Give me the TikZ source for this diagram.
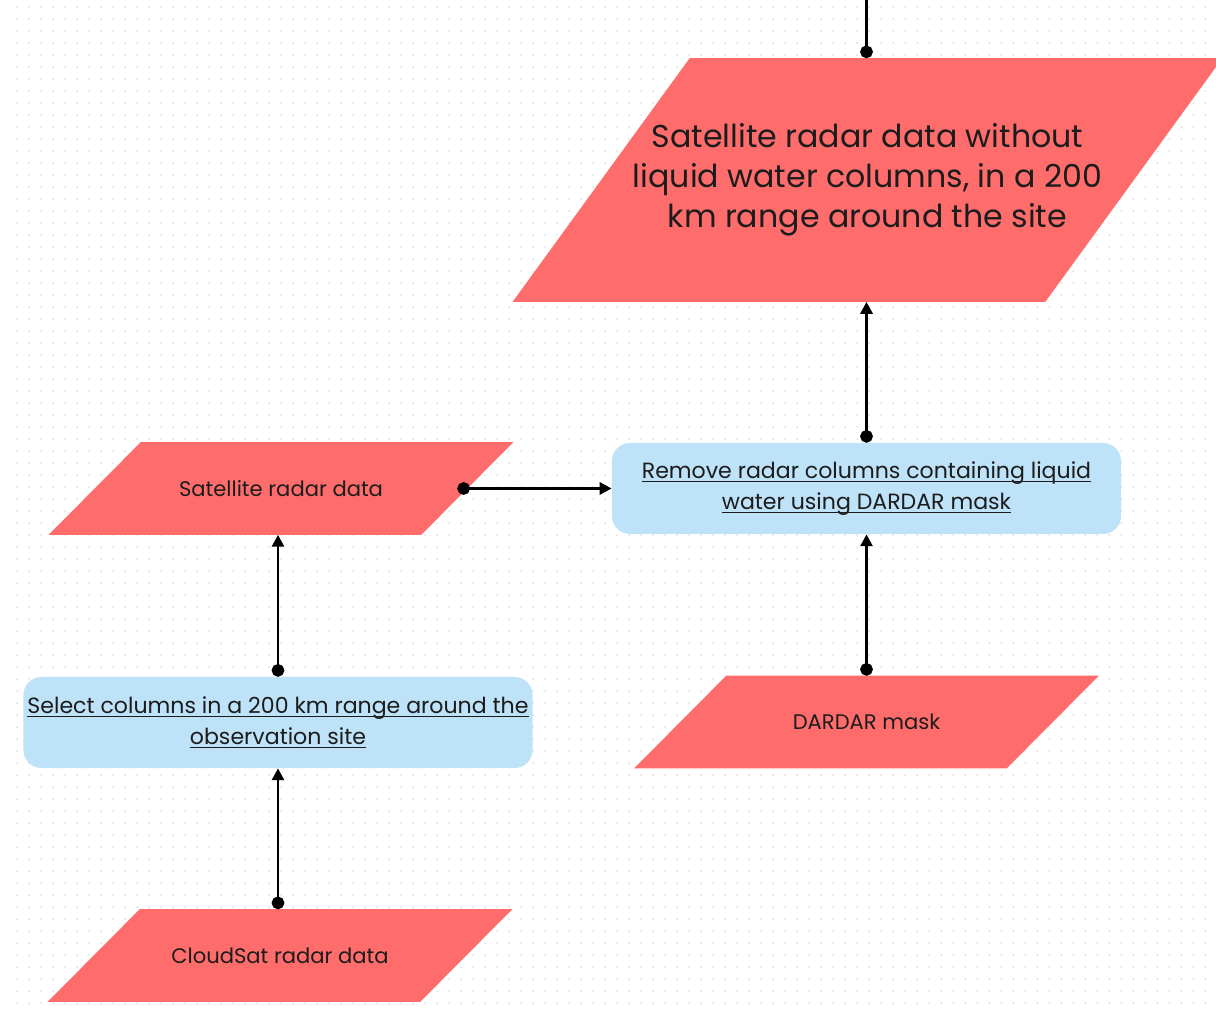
\documentclass[tikz,border=0pt]{standalone}
\usepackage{fontspec}
\setmainfont{Poppins}
\usetikzlibrary{arrows.meta}
\usetikzlibrary{backgrounds}
\definecolor{datared}{RGB}{255,108,108}
\definecolor{stepblue}{RGB}{190,227,249}
\definecolor{inktext}{RGB}{28,28,28}
\definecolor{gridgray}{RGB}{222,222,222}
\newcommand{\undl}[1]{\setbox0\hbox{#1}\rlap{\rule[-2.8pt]{\wd0}{0.8pt}}\box0}
% parallelogram behind a named node, #2 = half the slant offset
\newcommand{\slantfill}[2]{%
  \begin{pgfonlayer}{background}
  \fill[datared] ([xshift=-#2]#1.south west) -- ([xshift=#2]#1.north west)
    -- ([xshift=#2]#1.north east) -- ([xshift=-#2]#1.south east) -- cycle;
  \end{pgfonlayer}}
\tikzset{
  datanode/.style={rectangle, text=inktext, align=center,
    minimum width=9.3cm, minimum height=2.3cm, inner sep=0pt,
    font=\fontsize{15}{20}\selectfont},
  stepbox/.style={rectangle, rounded corners=0.45cm, fill=stepblue, text=inktext,
    align=center, minimum width=12.725cm, minimum height=2.275cm, inner sep=0pt,
    font=\fontsize{15.7}{22}\selectfont},
  link/.style={line width=2.1pt, {Circle[length=9pt]}-{Triangle[length=8.5pt,width=8.5pt]}},
  dotrow/.style={gridgray, line width=0.05cm, line cap=round, dash pattern=on 0pt off 0.3cm}
}

\begin{document}
\begin{tikzpicture}[x=0.025cm,y=-0.025cm]
\useasboundingbox (0,0) rectangle (1216,1016);
\begin{pgfonlayer}{background}
\foreach \gy in {7,19,...,1010}
  \draw[dotrow] (17,\gy) -- (1216,\gy);
\end{pgfonlayer}
\node[datanode, minimum width=13.3cm, minimum height=6.075cm,
  font=\fontsize{22.5}{28.5}\selectfont] (out) at (867.5,180)
  {Satellite radar data without\\liquid water columns, in a 200\\km range around the site};
\node[datanode] (sat) at (281,488.5) {Satellite radar data};
\node[stepbox] (rem) at (866.5,488.5)
  {\undl{Remove radar columns containing liquid}\\\undl{water using DARDAR mask}};
\node[datanode] (dardar) at (866.5,722) {DARDAR mask};
\node[stepbox] (sel) at (278,722.5)
  {\undl{Select columns in a 200 km range around the}\\\undl{observation site}};
\node[datanode] (cloud) at (280,955.5) {CloudSat radar data};
\slantfill{out}{2.2125cm}
\slantfill{sat}{1.15cm}
\slantfill{dardar}{1.15cm}
\slantfill{cloud}{1.15cm}
\coordinate (up) at (866.5,0);
\draw[link] (cloud.north -| sel.south) -- (sel.south);
\draw[link] (sel.north) -- (sat.south -| sel.north);
\draw[link, shorten <=-0.25cm] (sat.east) -- (rem.west);
\draw[link] (dardar.north) -- (rem.south);
\draw[link] (rem.north) -- (out.south -| rem.north);
\draw[line width=2.1pt, {Circle[length=9pt]}-] (out.north -| up) -- (up);
\end{tikzpicture}
\end{document}
